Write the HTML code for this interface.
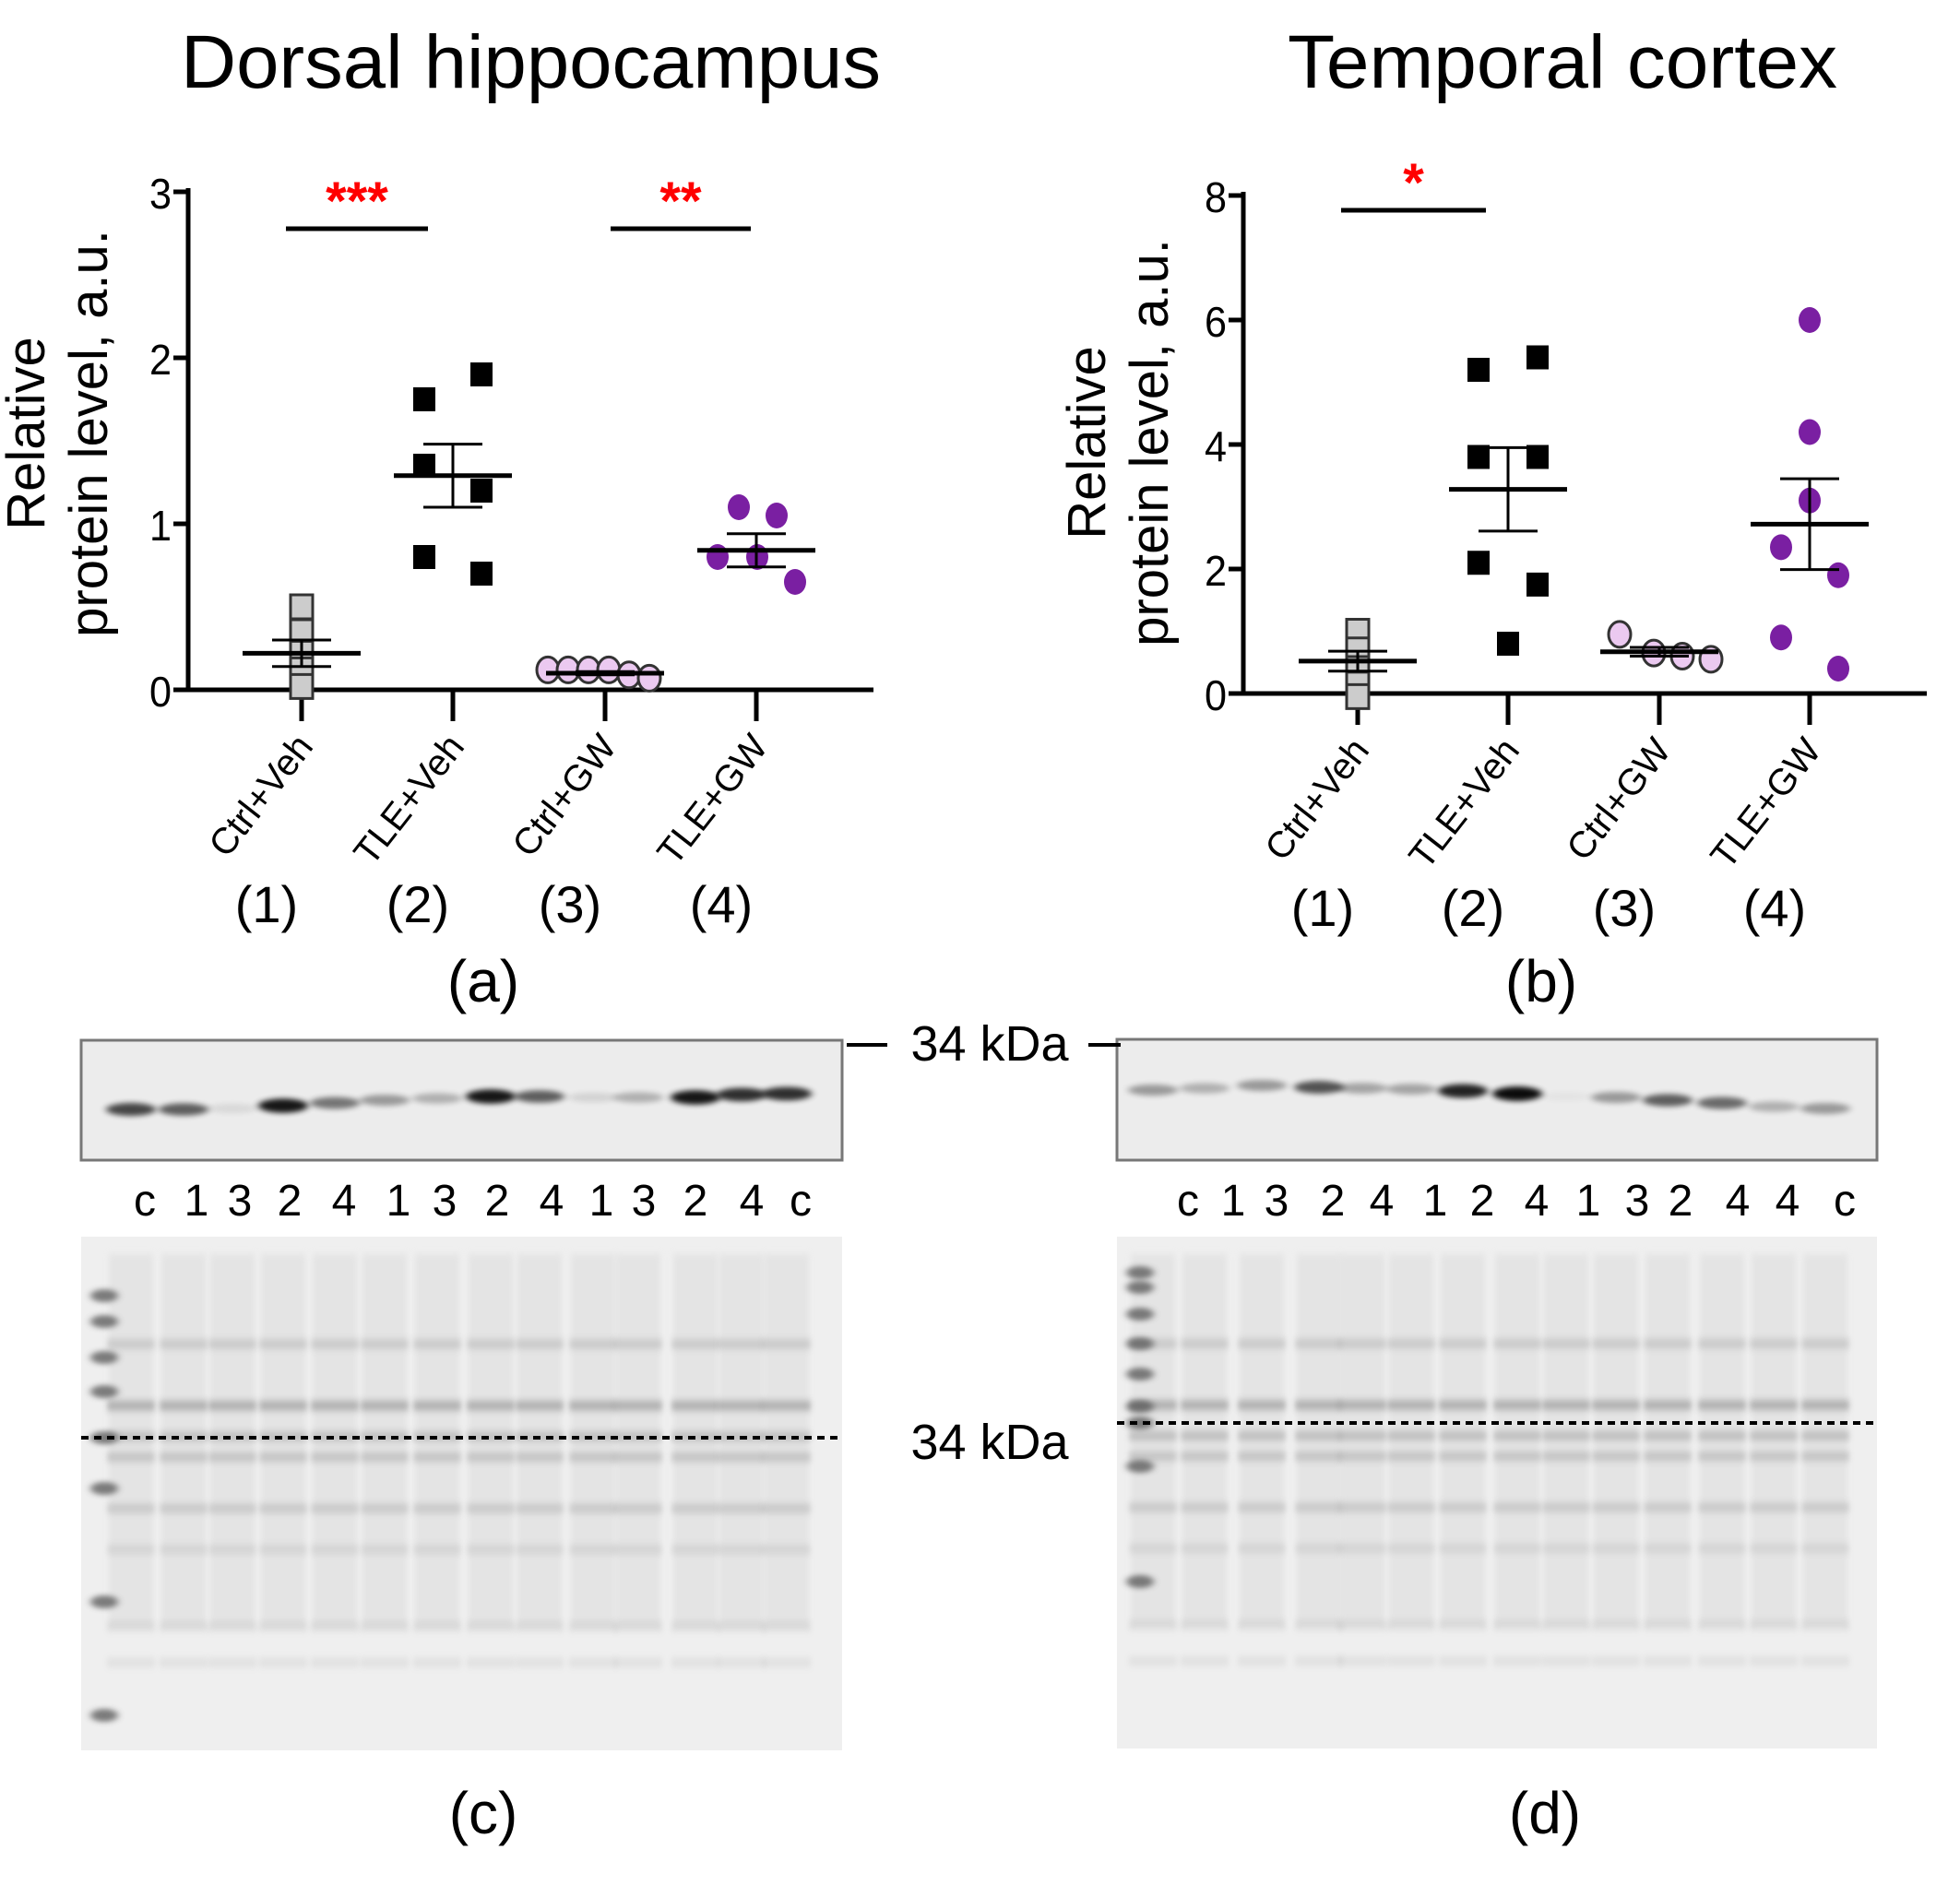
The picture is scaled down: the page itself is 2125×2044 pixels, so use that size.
<!DOCTYPE html>
<html><head><meta charset="utf-8"><style>
html,body{margin:0;padding:0;background:#fff}
svg{display:block;font-family:"Liberation Sans",Arial,sans-serif}
</style></head><body>
<svg id="fig" width="2125" height="2044" viewBox="0 0 2125 2044" xmlns="http://www.w3.org/2000/svg">
<defs>
<filter id="blur2" x="-50%" y="-200%" width="200%" height="500%"><feGaussianBlur stdDeviation="4 3"/></filter>
<filter id="blur6" x="-20%" y="-200%" width="140%" height="500%"><feGaussianBlur stdDeviation="3 4"/></filter>
</defs>
<text x="196" y="95" font-size="82" textLength="759" lengthAdjust="spacingAndGlyphs">Dorsal hippocampus</text>
<text x="1396" y="95" font-size="82" textLength="596" lengthAdjust="spacingAndGlyphs">Temporal cortex</text>
<g id="chartA"></g>
<g id="chartB"></g>
<text x="524" y="1086" font-size="64" text-anchor="middle">(a)</text>
<text x="1671" y="1086" font-size="64" text-anchor="middle">(b)</text>
<g id="blots"></g>
<text x="1073" y="1150" font-size="54" text-anchor="middle">34 kDa</text>
<line x1="918" y1="1133" x2="962" y2="1133" stroke="#000" stroke-width="4"/>
<line x1="1180" y1="1133" x2="1215" y2="1133" stroke="#000" stroke-width="4"/>
<text x="1073" y="1582" font-size="54" text-anchor="middle">34 kDa</text>
<text x="524" y="1988" font-size="64" text-anchor="middle">(c)</text>
<text x="1675" y="1988" font-size="64" text-anchor="middle">(d)</text>
</svg>
<script>
// ---- Chart (a) data ----
const catsA = ["Ctrl+Veh","TLE+Veh","Ctrl+GW","TLE+GW"];
const numsA = ["(1)","(2)","(3)","(4)"];
const ticksA = [0,1,2,3];
const g1A = [0.5,0.35,0.22,0.12,0.02];
const g2A = [1.75,1.9,1.35,1.2,0.8,0.7];
const g3A = [0.12,0.12,0.12,0.12,0.09,0.07];
const g4A = [1.1,1.05,0.8,0.8,0.65];
const meanA = [0.22,1.29,0.1,0.84];
const semA = [0.08,0.19,0.01,0.1];
// ---- Chart (b) data ----
const catsB = ["Ctrl+Veh","TLE+Veh","Ctrl+GW","TLE+GW"];
const numsB = ["(1)","(2)","(3)","(4)"];
const ticksB = [0,2,4,6,8];
const g1B = [1.0,0.7,0.4,0.15,-0.05];
const g2B = [5.2,5.4,3.8,3.8,2.1,1.75,0.8];
const g3B = [0.95,0.65,0.6,0.55];
const g4B = [6.0,4.2,3.1,2.35,1.9,0.9,0.4];
const meanB = [0.52,3.28,0.67,2.72];
const semB = [0.16,0.67,0.07,0.73];
// offsets (layout)
const offA2=[-31,31,-31,31,-31,31], offA3=[-62,-40,-18,4,26,48], offA4=[-19,22,-42,1,42];
const offB2=[-32,32,-32,32,-32,32,0], offB3=[-43,-6,25,56], offB4=[0,0,0,-31,31,-31,31];

const NS="http://www.w3.org/2000/svg";
function mk(p,tag,at){const e=document.createElementNS(NS,tag);for(const k in at)e.setAttribute(k,at[k]);p.appendChild(e);return e;}

function chart(root,cfg){
  const {x0,x1,yTop,yBot,vmax,catX,ticks,cats,nums,groups,means,sems,sig}=cfg;
  const y=v=>yBot-(v/vmax)*(yBot-yTop);
  const cx=i=>catX[i];
  const ax=mk(root,'line',{x1:x0,y1:yTop-4,x2:x0,y2:yBot,stroke:'#000','stroke-width':5});
  
  
  const xa=mk(root,'line',{x1:x0-16,y1:yBot,x2:x1,y2:yBot,stroke:'#000','stroke-width':5});
  
  
  ticks.forEach(t=>{
    mk(root,'line',{x1:x0-16,y1:y(t),x2:x0,y2:y(t),stroke:'#000','stroke-width':5});
    const tl=mk(root,'text',{x:x0-18,y:y(t)+18,'font-size':46,'text-anchor':'end',textLength:24,lengthAdjust:'spacingAndGlyphs'});
    tl.textContent=t;
    
    
  });
  cats.forEach((c,i)=>{
    mk(root,'line',{x1:cx(i),y1:yBot,x2:cx(i),y2:yBot+34,stroke:'#000','stroke-width':5});
    const tl=mk(root,'text',{x:0,y:0,'font-size':40,'text-anchor':'end',transform:`translate(${cx(i)+14},${yBot+62}) rotate(-52)`});
    tl.textContent=c;
    
    
    const nl=mk(root,'text',{x:cx(i)-38,y:yBot+252,'font-size':56,'text-anchor':'middle'});
    nl.textContent=nums[i];
    
    
  });
  const yt=mk(root,'text',{transform:`translate(${cfg.tx},${cfg.ty}) rotate(-90)`,'font-size':58,'text-anchor':'middle'});
  yt.textContent='Relative';
  
  
  const yt2=mk(root,'text',{transform:`translate(${cfg.tx+68},${cfg.ty}) rotate(-90)`,'font-size':58,'text-anchor':'middle'});
  yt2.textContent='protein level, a.u.';
  
  
  groups.forEach((g,gi)=>{
    g.vals.forEach((v,k)=>{
      const px=cx(gi)+(g.off?g.off[k]:0), py=y(v);
      let m;
      if(g.shape==='sq') m=mk(root,'rect',{x:px-12,y:py-13,width:24,height:26,fill:g.fill,stroke:g.stroke||'none','stroke-width':3});
      else m=mk(root,'ellipse',{cx:px,cy:py,rx:12,ry:14,fill:g.fill,stroke:g.stroke||'none','stroke-width':3});
      
      
    });
  });
  means.forEach((m,i)=>{
    const mx=cx(i);
    const ml=mk(root,'line',{x1:mx-64,y1:y(m),x2:mx+64,y2:y(m),stroke:'#000','stroke-width':5});
    
    
    mk(root,'line',{x1:mx,y1:y(m+sems[i]),x2:mx,y2:y(m-sems[i]),stroke:'#000','stroke-width':3});
    mk(root,'line',{x1:mx-32,y1:y(m+sems[i]),x2:mx+32,y2:y(m+sems[i]),stroke:'#000','stroke-width':3});
    mk(root,'line',{x1:mx-32,y1:y(m-sems[i]),x2:mx+32,y2:y(m-sems[i]),stroke:'#000','stroke-width':3});
  });
  sig.forEach(s=>{
    const b=mk(root,'line',{x1:s.a,y1:s.y,x2:s.b,y2:s.y,stroke:'#000','stroke-width':5});
    
    
    const st=mk(root,'text',{x:(s.a+s.b)/2,y:s.y-10,'font-size':58,'font-weight':'bold',fill:'#f00','text-anchor':'middle'});
    st.textContent=s.t;
    
    
  });
}
chart(document.getElementById('chartA'),{x0:204,x1:947,yTop:208,yBot:748,vmax:3,catX:[327,491,656,820],ticks:ticksA,cats:catsA,nums:numsA,tx:48,ty:470,
 groups:[{vals:g1A,shape:'sq',fill:'#ccc',stroke:'#333'},{vals:g2A,shape:'sq',fill:'#000',off:offA2},{vals:g3A,shape:'ci',fill:'#ebc9f0',stroke:'#333',off:offA3},{vals:g4A,shape:'ci',fill:'#7a1fa2',off:offA4}],
 means:meanA,sems:semA,sig:[{a:310,b:464,y:248,t:'***'},{a:662,b:814,y:248,t:'**'}]});
chart(document.getElementById('chartB'),{x0:1348,x1:2089,yTop:212,yBot:752,vmax:8,catX:[1472,1635,1799,1962],ticks:ticksB,cats:catsB,nums:numsB,tx:1198,ty:480,
 groups:[{vals:g1B,shape:'sq',fill:'#ccc',stroke:'#333'},{vals:g2B,shape:'sq',fill:'#000',off:offB2},{vals:g3B,shape:'ci',fill:'#ebc9f0',stroke:'#333',off:offB3},{vals:g4B,shape:'ci',fill:'#7a1fa2',off:offB4}],
 means:meanB,sems:semB,sig:[{a:1454,b:1611,y:228,t:'*'}]});

// ---- Blots ----
const lanesC=["c","1","3","2","4","1","3","2","4","1","3","2","4","c"];
const lanesD=["c","1","3","2","4","1","2","4","1","3","2","4","4","c"];
const bandC=[0.7,0.6,0.08,0.9,0.5,0.35,0.25,0.9,0.6,0.1,0.25,0.9,0.8,0.8];
const bandD=[0.35,0.25,0.35,0.65,0.3,0.3,0.85,0.95,0.03,0.35,0.6,0.55,0.25,0.35];
const B=document.getElementById('blots');
function blot(x0,x1,y0,y1,lx,lanes,bands,bx,by,gy1,dashY,marker){
  const r=mk(B,'rect',{x:x0,y:y0,width:x1-x0,height:y1-y0,fill:'#ececec',stroke:'#777','stroke-width':3});
  
  
  bands.forEach((v,i)=>{
    const e=mk(B,'ellipse',{cx:bx[i],cy:by[i],rx:27,ry:5+3*v,fill:'#000',opacity:v,filter:'url(#blur2)'});
    
    
  });
  lanes.forEach((l,i)=>{
    const t=mk(B,'text',{x:lx[i],y:1318,'font-size':48,'text-anchor':'middle'});
    t.textContent=l;
    
    
  });
  const gel=mk(B,'rect',{x:x0,y:1341,width:x1-x0,height:gy1-1341,fill:'#efefef'});
  
  
  // per-lane smears
  bx.forEach(cx=>{
    mk(B,'rect',{x:cx-24,y:1360,width:48,height:(gy1-1360)*0.75,fill:'#ddd',opacity:0.6,filter:'url(#blur6)'});
    [[0.2,0.25],[0.32,0.5],[0.38,0.35],[0.42,0.3],[0.52,0.25],[0.6,0.15],[0.75,0.15],[0.82,0.12]].forEach(([f,o])=>{
      mk(B,'rect',{x:cx-26,y:1341+f*(gy1-1341),width:52,height:10,fill:'#777',opacity:o,filter:'url(#blur6)'});
    });
  });
  marker.forEach(m=>mk(B,'ellipse',{cx:x0+25,cy:m,rx:15,ry:7,fill:'#555',opacity:0.75,filter:'url(#blur2)'}));
  const d=mk(B,'line',{x1:x0,y1:dashY,x2:x1,y2:dashY,stroke:'#000','stroke-width':4,'stroke-dasharray':'8 6'});
  
  
}
blot(88,913,1128,1258,[157,213,260,314,373,432,482,539,598,652,698,754,815,868],lanesC,bandC,
 [142,199,252,307,363,417,474,532,585,643,692,754,804,853],[1203,1203,1202,1199,1196,1193,1191,1189,1189,1190,1190,1190,1187,1186],1898,1559,[1405,1433,1472,1509,1559,1614,1737,1860]);
blot(1211,2035,1127,1258,[1288,1337,1384,1445,1498,1556,1607,1666,1722,1775,1822,1884,1938,2000],lanesD,bandD,
 [1250,1306,1368,1430,1477,1530,1586,1645,1698,1752,1808,1867,1923,1979],[1182,1180,1177,1179,1180,1181,1183,1186,1189,1190,1193,1196,1200,1202],1896,1543,[1380,1396,1425,1457,1490,1525,1543,1590,1715]);
</script>
</body></html>
